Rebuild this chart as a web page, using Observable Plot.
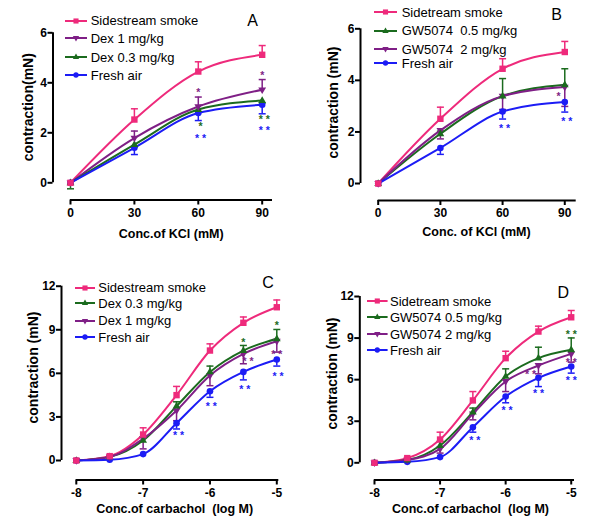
<!DOCTYPE html>
<html><head><meta charset="utf-8">
<script src="https://cdn.jsdelivr.net/npm/d3@7"></script>
<script src="https://cdn.jsdelivr.net/npm/@observablehq/plot@0.6"></script>
<style>
body{margin:0;background:#fff;font-family:"Liberation Sans",Arial,sans-serif;}
#root{position:relative;width:600px;height:525px;overflow:hidden;background:#fff;}
.panel{position:absolute;}
.panel svg{overflow:visible;}
.lg{position:absolute;display:flex;align-items:center;height:16px;white-space:pre;font-size:13px;color:#000;}
.lg svg{flex:none;}
.letter{position:absolute;font-size:16px;transform:translate(-50%,-50%);color:#000;}
</style></head><body><div id="root"></div>
<script>
// ---------- shared ticks / doses ----------
const KCL_DOSES = [0, 30, 60, 90];
const KCL_TICKS = [0, 30, 60, 90];
const KCL_Y_TICKS = [0, 2, 4, 6];
const CCH_DOSES = [-8, -7.5, -7, -6.5, -6, -5.5, -5];
const CCH_TICKS = [-8, -7, -6, -5];
const CCH_Y_TICKS = [0, 3, 6, 9, 12];

const PINK = "#ee2a7b", PURPLE = "#7f1f86", GREEN = "#1b6b1e", BLUE = "#1c1cf5";

// ---------- Panel A ----------
const A_SMOKE = [0, 2.53, 4.45, 5.12];
const A_SMOKE_ERR = [0, 0.43, 0.39, 0.37];
const A_DEX1 = [0, 1.79, 3.05, 3.72];
const A_DEX1_ERR = [0, 0.28, 0.38, 0.41];
const A_DEX03 = [0, 1.53, 2.93, 3.29];
const A_DEX03_ERR = [0.24, 0.1, 0.1, 0.1];
const A_FRESH = [0, 1.40, 2.79, 3.12];
const A_FRESH_ERR = [0.05, 0.27, 0.30, 0.36];
const A_DEX1_STARS = [[60, 3.69, "*"], [90, 4.40, "*"]];
const A_DEX03_STARS = [[61, 2.33, "*"], [91, 2.62, "* *"]];
const A_FRESH_STARS = [[61, 1.86, "* *"], [91, 2.17, "* *"]];

// ---------- Panel B ----------
const B_SMOKE = [0, 2.51, 4.45, 5.10];
const B_SMOKE_ERR = [0, 0.45, 0.39, 0.41];
const B_GW05 = [0, 1.93, 3.39, 3.83];
const B_GW05_ERR = [0, 0.1, 0.68, 0.62];
const B_GW2 = [0, 2.06, 3.39, 3.74];
const B_GW2_ERR = [0, 0.33, 0.52, 0.75];
const B_FRESH = [0, 1.38, 2.79, 3.16];
const B_FRESH_ERR = [0, 0.25, 0.29, 0.39];
const B_GW2_STARS = [[87, 3.45, "*"]];
const B_FRESH_STARS = [[61, 2.21, "* *"], [91, 2.51, "* *"]];

// ---------- Panel C ----------
const C_SMOKE = [0, 0.30, 1.79, 4.50, 7.57, 9.48, 10.55];
const C_SMOKE_ERR = [0, 0.05, 0.46, 0.60, 0.46, 0.40, 0.50];
const C_DEX03 = [0, 0.25, 1.38, 3.74, 6.10, 7.57, 8.38];
const C_DEX03_ERR = [0, 0, 0.25, 0.30, 0.40, 0.35, 0.64];
const C_DEX1 = [0, 0.25, 1.50, 3.44, 5.85, 7.34, 8.21];
const C_DEX1_ERR = [0, 0, 0.70, 0.70, 0.70, 0.68, 0.75];
const C_FRESH = [0, 0.05, 0.44, 2.57, 4.77, 6.10, 6.95];
const C_FRESH_ERR = [0, 0, 0, 0.40, 0.42, 0.55, 0.45];
const C_DEX03_STARS = [[-5.5, 8.26, "*"], [-5, 9.48, "*"]];
const C_DEX1_STARS = [[-5.43, 6.95, "* *"], [-5, 7.46, "* *"]];
const C_FRESH_STARS = [[-6.47, 1.88, "* *"], [-5.98, 3.85, "* *"], [-5.48, 5.04, "* *"], [-4.98, 5.98, "* *"]];

// ---------- Panel D ----------
const D_SMOKE = [0, 0.34, 1.68, 4.50, 7.55, 9.47, 10.50];
const D_SMOKE_ERR = [0, 0.05, 0.53, 0.64, 0.50, 0.39, 0.49];
const D_GW05 = [0, 0.20, 1.25, 3.65, 6.23, 7.55, 8.15];
const D_GW05_ERR = [0, 0, 0.30, 0.30, 0.55, 0.79, 0.86];
const D_GW2 = [0, 0.20, 1.00, 3.53, 5.87, 7.02, 7.86];
const D_GW2_ERR = [0, 0, 0.30, 0.43, 0.73, 0.60, 0.60];
const D_FRESH = [0, 0.07, 0.41, 2.57, 4.78, 6.13, 6.95];
const D_FRESH_ERR = [0, 0, 0, 0.36, 0.45, 0.63, 0.48];
const D_GW05_STARS = [[-5, 9.42, "* *"]];
const D_GW2_STARS = [[-5.62, 6.54, "* *"], [-5, 7.38, "* *"]];
const D_FRESH_STARS = [[-6.47, 1.80, "* *"], [-5.98, 3.94, "* *"], [-5.5, 5.14, "* *"], [-5, 6.13, "* *"]];

// ---------- marker shapes ----------
const SYM = {
  square: {draw(c){ c.rect(-3.2, -3.2, 6.4, 6.4); }},
  up: {draw(c){ c.moveTo(0, -4.3); c.lineTo(3.9, 2.4); c.lineTo(-3.9, 2.4); c.closePath(); }},
  down: {draw(c){ c.moveTo(0, 4.3); c.lineTo(3.9, -2.4); c.lineTo(-3.9, -2.4); c.closePath(); }},
  circle: {draw(c){ c.moveTo(3.3, 0); c.arc(0, 0, 3.3, 0, 2 * Math.PI); }}
};
const CAP = {draw(c){ c.moveTo(-3.5, 0); c.lineTo(3.5, 0); }};

const S = (name, color, sym, values, err, dir, stars = []) => ({name, color, sym, values, err, dir, stars});

const panels = [
  {left: 0, top: 0, width: 300, height: 260, mL: 52.5, mR: 28, mT: 32.3, mB: 60.5,
   xDomain: [-8.216, 94.84], yDomain: [-0.688, 6], doses: KCL_DOSES, xTicks: KCL_TICKS, yTicks: KCL_Y_TICKS,
   yLabel: "contraction(mN)", yLabelAt: [28.5, 106.7], xLabel: "Conc.of KCl (mM)", xLabelAt: [170.7, 233.5],
   letter: "A", letterAt: [252.7, 20.7],
   legend: {sx: 65, sw: 22, tx: 90.7, ys: [20.7, 38.3, 57.3, 75]},
   series: [
     S("Sidestream smoke", PINK, "square", A_SMOKE, A_SMOKE_ERR, 1),
     S("Dex 1 mg/kg", PURPLE, "down", A_DEX1, A_DEX1_ERR, 1, A_DEX1_STARS),
     S("Dex 0.3 mg/kg", GREEN, "up", A_DEX03, A_DEX03_ERR, -1, A_DEX03_STARS),
     S("Fresh air", BLUE, "circle", A_FRESH, A_FRESH_ERR, -1, A_FRESH_STARS)
   ]},
  {left: 300, top: 0, width: 300, height: 260, mL: 60, mR: 24.3, mT: 28.3, mB: 60,
   xDomain: [-8.54, 95.51], yDomain: [-0.659, 6], doses: KCL_DOSES, xTicks: KCL_TICKS, yTicks: KCL_Y_TICKS,
   yLabel: "contraction (mN)", yLabelAt: [33, 102], xLabel: "Conc. of KCl (mM)", xLabelAt: [176, 231.5],
   letter: "B", letterAt: [256.7, 15],
   legend: {sx: 74, sw: 23, tx: 101.7, ys: [12.3, 30.7, 49, 63.3]},
   series: [
     S("Sidetream smoke", PINK, "square", B_SMOKE, B_SMOKE_ERR, 1),
     S("GW5074  0.5 mg/kg", GREEN, "up", B_GW05, B_GW05_ERR, 1),
     S("GW5074  2 mg/kg", PURPLE, "down", B_GW2, B_GW2_ERR, -1, B_GW2_STARS),
     S("Fresh air", BLUE, "circle", B_FRESH, B_FRESH_ERR, -1, B_FRESH_STARS)
   ]},
  {left: 0, top: 260, width: 300, height: 265, mL: 61, mR: 21.7, mT: 25.7, mB: 45.5,
   xDomain: [-8.2215, -4.970], yDomain: [-1.343, 12], doses: CCH_DOSES, xTicks: CCH_TICKS, yTicks: CCH_Y_TICKS,
   yLabel: "contraction (mN)", yLabelAt: [33, 107], xLabel: "Conc.of carbachol  (log M)", xLabelAt: [174.2, 248],
   letter: "C", letterAt: [268, 22.7],
   legend: {sx: 75, sw: 20, tx: 98.3, ys: [27.7, 43.3, 60.7, 77.3]},
   series: [
     S("Sidestream smoke", PINK, "square", C_SMOKE, C_SMOKE_ERR, 1),
     S("Dex 0.3 mg/kg", GREEN, "up", C_DEX03, C_DEX03_ERR, 1, C_DEX03_STARS),
     S("Dex 1 mg/kg", PURPLE, "down", C_DEX1, C_DEX1_ERR, -1, C_DEX1_STARS),
     S("Fresh air", BLUE, "circle", C_FRESH, C_FRESH_ERR, -1, C_FRESH_STARS)
   ]},
  {left: 300, top: 260, width: 300, height: 265, mL: 59.3, mR: 26, mT: 36, mB: 45.5,
   xDomain: [-8.224, -4.950], yDomain: [-1.241, 12], doses: CCH_DOSES, xTicks: CCH_TICKS, yTicks: CCH_Y_TICKS,
   yLabel: "contraction (mN)", yLabelAt: [31.7, 113], xLabel: "Conc.of carbachol  (log M)", xLabelAt: [170, 248],
   letter: "D", letterAt: [263.3, 33.3],
   legend: {sx: 66.7, sw: 20.6, tx: 90, ys: [41, 57.3, 74, 90]},
   series: [
     S("Sidetream smoke", PINK, "square", D_SMOKE, D_SMOKE_ERR, 1),
     S("GW5074 0.5 mg/kg", GREEN, "up", D_GW05, D_GW05_ERR, 1, D_GW05_STARS),
     S("GW5074 2 mg/kg", PURPLE, "down", D_GW2, D_GW2_ERR, -1, D_GW2_STARS),
     S("Fresh air", BLUE, "circle", D_FRESH, D_FRESH_ERR, -1, D_FRESH_STARS)
   ]}
];

const root = document.getElementById("root");
const FONT = '"Liberation Sans", Arial, sans-serif';

function legendSwatch(s, w, h) {
  const ns = "http://www.w3.org/2000/svg";
  const svg = document.createElementNS(ns, "svg");
  svg.setAttribute("width", w); svg.setAttribute("height", h);
  const line = document.createElementNS(ns, "line");
  line.setAttribute("x1", 0); line.setAttribute("x2", w); line.setAttribute("y1", h / 2); line.setAttribute("y2", h / 2);
  line.setAttribute("stroke", s.color); line.setAttribute("stroke-width", 2);
  svg.appendChild(line);
  const p = document.createElementNS(ns, "path");
  const path = d3.path(); SYM[s.sym].draw(path);
  p.setAttribute("d", path.toString()); p.setAttribute("fill", s.color);
  p.setAttribute("transform", `translate(${w / 2},${h / 2}) scale(0.8)`);
  svg.appendChild(p);
  return svg;
}

for (const cfg of panels) {
  const marks = [];
  const y0 = cfg.yDomain[0];
  // axis lines
  marks.push(Plot.ruleX([cfg.xDomain[0]], {y1: cfg.yTicks[0], y2: cfg.yTicks[cfg.yTicks.length - 1], strokeWidth: 2, stroke: "#000"}));
  marks.push(Plot.ruleY([y0], {x1: cfg.xTicks[0], x2: cfg.xDomain[1], strokeWidth: 2, stroke: "#000"}));
  marks.push(Plot.axisY({ticks: cfg.yTicks, tickSize: 5, tickPadding: 1, strokeWidth: 2, label: null, tickFormat: d => String(d), fontSize: 12, fontWeight: "bold"}));
  marks.push(Plot.axisX({ticks: cfg.xTicks, tickSize: 5, tickPadding: 3, strokeWidth: 2, label: null, tickFormat: d => String(d), fontSize: 12, fontWeight: "bold"}));
  // error bars
  for (const s of cfg.series) {
    const rows = cfg.doses.map((x, i) => ({x, y: s.values[i], e: s.err[i], y2: s.values[i] + s.dir * s.err[i]}));
    const errs = rows.filter(d => d.e > 0);
    marks.push(Plot.ruleX(errs, {x: "x", y1: "y", y2: "y2", stroke: s.color, strokeWidth: 1.5}));
    marks.push(Plot.dot(errs, {x: "x", y: "y2", symbol: CAP, fill: "none", stroke: s.color, strokeWidth: 1.5}));
  }
  // curves
  for (const s of cfg.series) {
    const rows = cfg.doses.map((x, i) => ({x, y: s.values[i]}));
    marks.push(Plot.line(rows, {x: "x", y: "y", stroke: s.color, strokeWidth: 2, curve: "monotone-x"}));
  }
  // markers
  for (const s of cfg.series.slice().reverse()) {
    const rows = cfg.doses.map((x, i) => ({x, y: s.values[i]}));
    marks.push(Plot.dot(rows, {x: "x", y: "y", symbol: SYM[s.sym], fill: s.color, stroke: "none"}));
  }
  // significance stars
  for (const s of cfg.series) {
    if (!s.stars.length) continue;
    const st = s.stars.map(([x, y, t]) => ({x, y, t}));
    marks.push(Plot.text(st, {x: "x", y: "y", text: "t", fill: s.color, fontSize: 10.5, fontWeight: "bold", dy: 2.5, lineAnchor: "middle", textAnchor: "middle"}));
  }
  // axis titles
  marks.push(Plot.text([cfg.yLabel], {frameAnchor: "top-left", textAnchor: "middle", lineAnchor: "middle", dx: cfg.yLabelAt[0] - cfg.mL, dy: cfg.yLabelAt[1] - cfg.mT, rotate: -90, fontSize: 14, fontWeight: "bold", fill: "#000"}));
  marks.push(Plot.text([cfg.xLabel], {frameAnchor: "top-left", textAnchor: "middle", lineAnchor: "middle", dx: cfg.xLabelAt[0] - cfg.mL, dy: cfg.xLabelAt[1] - cfg.mT, fontSize: 12.5, fontWeight: "bold", fill: "#000"}));

  const chart = Plot.plot({
    width: cfg.width, height: cfg.height,
    marginLeft: cfg.mL, marginRight: cfg.mR, marginTop: cfg.mT, marginBottom: cfg.mB,
    x: {domain: cfg.xDomain},
    y: {domain: cfg.yDomain},
    style: {fontFamily: FONT, background: "transparent", color: "#000", whiteSpace: "pre", overflow: "visible"},
    marks
  });
  const div = document.createElement("div");
  div.className = "panel";
  div.style.left = cfg.left + "px"; div.style.top = cfg.top + "px";
  div.style.width = cfg.width + "px"; div.style.height = cfg.height + "px";
  div.appendChild(chart);
  // legend
  cfg.series.forEach((s, i) => {
    const row = document.createElement("div");
    row.className = "lg";
    row.style.left = cfg.legend.sx + "px";
    row.style.top = (cfg.legend.ys[i] - 8) + "px";
    const sw = legendSwatch(s, cfg.legend.sw, 16);
    sw.style.marginRight = (cfg.legend.tx - cfg.legend.sx - cfg.legend.sw) + "px";
    row.appendChild(sw);
    const t = document.createElement("span");
    t.textContent = s.name;
    row.appendChild(t);
    div.appendChild(row);
  });
  const L = document.createElement("div");
  L.className = "letter"; L.textContent = cfg.letter;
  L.style.left = cfg.letterAt[0] + "px"; L.style.top = cfg.letterAt[1] + "px";
  div.appendChild(L);
  root.appendChild(div);
}
</script></body></html>
